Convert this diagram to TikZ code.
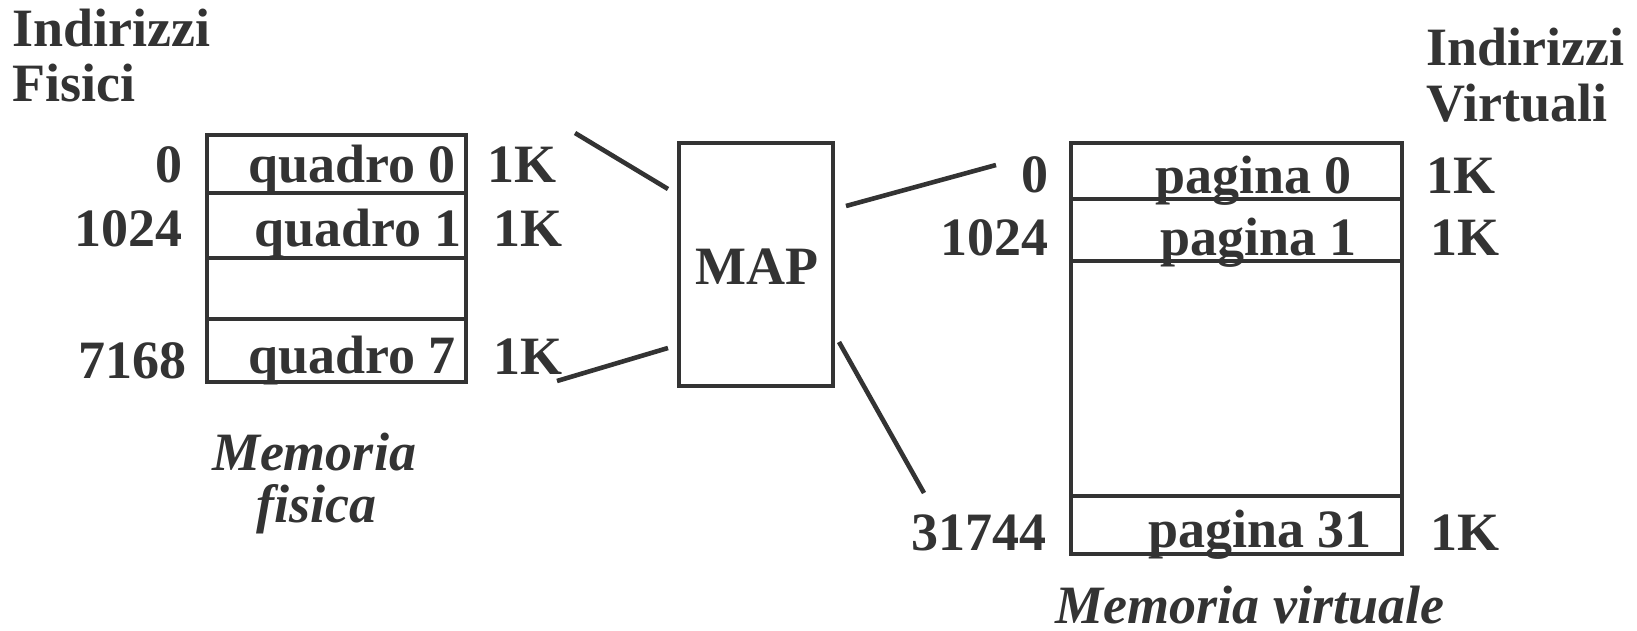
\documentclass[tikz,border=0pt]{standalone}
\usepackage{fontspec}
\setmainfont{Liberation Serif}
\definecolor{ink}{HTML}{333333}
\begin{document}
\begin{tikzpicture}[x=0.5pt,y=-0.5pt,
  lbl/.style={inner sep=0pt, text=ink, font=\fontsize{27}{32}\selectfont\bfseries},
  ilbl/.style={inner sep=0pt, text=ink, font=\fontsize{27}{32}\selectfont\bfseries\itshape},
  boxline/.style={draw=ink, line width=2.3pt},
  link/.style={draw=ink, line width=2.3pt}]
\useasboundingbox[fill=white] (0,0) rectangle (1637,631);

% headers
\node[lbl, anchor=base west] (fh1) at (12,47) {Indirizzi};
\node[lbl, anchor=base west] (fh2) at (12,102) {Fisici};
\node[lbl, anchor=base west] (vh1) at (1426,66) {Indirizzi};
\node[lbl, anchor=base west] (vh2) at (1426,121) {Virtuali};

% physical memory
\draw[boxline] (207,135) rectangle (466,382);
\draw[boxline] (207,193) -- (466,193);
\draw[boxline] (207,258) -- (466,258);
\draw[boxline] (207,319) -- (466,319);
\node[lbl, anchor=base east] (fa0) at (183,182) {0};
\node[lbl, anchor=base east] (fa1) at (183,246) {1024};
\node[lbl, anchor=base east] (fa7) at (187,378) {7168};
\node[lbl, anchor=base west] (fq0) at (248,182) {quadro 0};
\node[lbl, anchor=base west] (fq1) at (254,246) {quadro 1};
\node[lbl, anchor=base west] (fq7) at (248,373) {quadro 7};
\node[lbl, anchor=base west] (fk0) at (487,182) {1K};
\node[lbl, anchor=base west] (fk1) at (493,246) {1K};
\node[lbl, anchor=base west] (fk7) at (493,374) {1K};
\node[ilbl, anchor=base] (fm1) at (314,470) {Memoria};
\node[ilbl, anchor=base] (fm2) at (316,522) {fisica};

% MAP
\node[boxline, minimum width=77pt, minimum height=121.5pt, inner sep=0pt] (map) at (756,264.5) {};
\node[lbl, anchor=base] (maptxt) at (757,284) {MAP};

% virtual memory
\draw[boxline] (1071,143) rectangle (1402,554);
\draw[boxline] (1071,199) -- (1402,199);
\draw[boxline] (1071,261) -- (1402,261);
\draw[boxline] (1071,496) -- (1402,496);
\node[lbl, anchor=base east] (va0) at (1049,192) {0};
\node[lbl, anchor=base east] (va1) at (1049,255) {1024};
\node[lbl, anchor=base east] (va31) at (1047,550) {31744};
\node[lbl, anchor=base west] (vp0) at (1155,193) {pagina 0};
\node[lbl, anchor=base west] (vp1) at (1160,255) {pagina 1};
\node[lbl, anchor=base west] (vp31) at (1148,547) {pagina 31};
\node[lbl, anchor=base west] (vk0) at (1426,193) {1K};
\node[lbl, anchor=base west] (vk1) at (1430,255) {1K};
\node[lbl, anchor=base west] (vk31) at (1430,550) {1K};
\node[ilbl, anchor=base] (vm) at (1250,623) {Memoria virtuale};

% connectors
\coordinate (l1a) at (575,133); \coordinate (l1b) at (668,189);
\coordinate (l2a) at (557,381); \coordinate (l2b) at (668,348);
\coordinate (l3a) at (846,206); \coordinate (l3b) at (996,165);
\coordinate (l4a) at (839,342); \coordinate (l4b) at (924,493);
\draw[link] (l1a) -- (l1b);
\draw[link] (l2a) -- (l2b);
\draw[link] (l3a) -- (l3b);
\draw[link] (l4a) -- (l4b);
\end{tikzpicture}
\end{document}
